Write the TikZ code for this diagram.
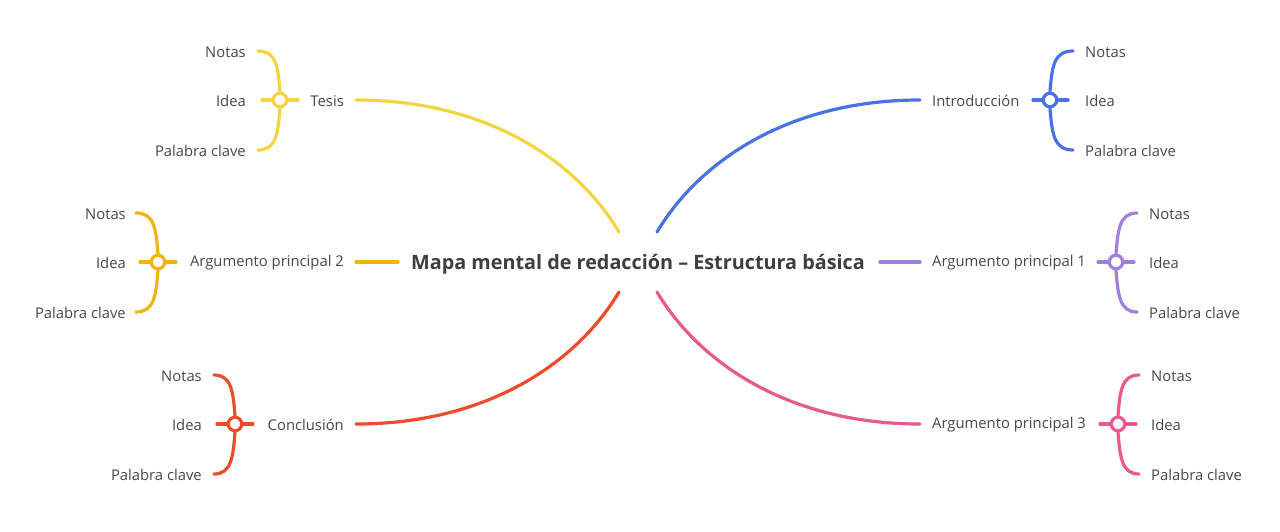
\documentclass[tikz,border=0pt]{standalone}
\usepackage{fontspec}
\setmainfont{Open Sans}
\definecolor{cblue}{HTML}{4A72E6}
\definecolor{cpurple}{HTML}{A17FE0}
\definecolor{cpink}{HTML}{E65A8C}
\definecolor{cyellow}{HTML}{F5D442}
\definecolor{corange}{HTML}{F1B314}
\definecolor{cred}{HTML}{EC4C2B}
\definecolor{ctext}{HTML}{484848}
\definecolor{ctitle}{HTML}{3C3E41}
\tikzset{
  lbl/.style={inner sep=0pt, text=ctext, font=\fontsize{14.8}{16}\selectfont, yshift=-0.8pt},
  lblR/.style={lbl, anchor=west},
  lblL/.style={lbl, anchor=east},
  hub/.style={circle, draw=#1, fill=white, line width=3.2pt, minimum size=13.5pt, inner sep=0pt},
  conn/.style={draw=#1, line width=3.2pt, line cap=round},
}
\begin{document}
\begin{tikzpicture}[x=1pt,y=-1pt]
\useasboundingbox (0,0) rectangle (1280,531);
\fill[white] (0,0) rectangle (1280,531);
% title
\node[inner sep=0pt, text=ctitle, font=\bfseries\fontsize{19.8}{22}\selectfont] (title) at (638,264) {Mapa mental de redacción – Estructura básica};
\coordinate (oNE) at (657,232);
\coordinate (oSE) at (657,292);
\coordinate (oNW) at (619,232);
\coordinate (oSW) at (619,292);
\coordinate (oE) at (880,262);
\coordinate (oW) at (398,262);

% ===== Introducción (blue)
\node[lblR] (intro) at (932,100) {Introducción};
\coordinate (introIn) at (920,100);
\node[hub=cblue] (hubI) at (1050,100) {};
\coordinate (hubIa) at (1033,100);
\coordinate (hubIb) at (1068,100);
\coordinate (bIt) at (1073,51);
\coordinate (bIb) at (1073,150);
\node[lblR] (introN) at (1085,51) {Notas};
\node[lblR] (introI) at (1085,100) {Idea};
\node[lblR] (introP) at (1085,150) {Palabra clave};
\draw[conn=cblue] (oNE) .. controls (700,160) and (790,100) .. (introIn);
\draw[conn=cblue] (hubIa) -- (hubI.west);
\draw[conn=cblue] (hubI.east) -- (hubIb);
\draw[conn=cblue] (hubI.north) .. controls (1052,66) and (1054,51) .. (bIt);
\draw[conn=cblue] (hubI.south) .. controls (1052,134) and (1054,150) .. (bIb);

% ===== Argumento principal 1 (purple)
\node[lblR] (arg1) at (932,262) {Argumento principal 1};
\coordinate (arg1In) at (920,262);
\node[hub=cpurple] (hubA) at (1116,262) {};
\coordinate (hubAa) at (1098,262);
\coordinate (hubAb) at (1134,262);
\coordinate (bAt) at (1137,213);
\coordinate (bAb) at (1137,312);
\node[lblR] (arg1N) at (1149,213) {Notas};
\node[lblR] (arg1I) at (1149,262) {Idea};
\node[lblR] (arg1P) at (1149,312) {Palabra clave};
\draw[conn=cpurple] (oE) -- (arg1In);
\draw[conn=cpurple] (hubAa) -- (hubA.west);
\draw[conn=cpurple] (hubA.east) -- (hubAb);
\draw[conn=cpurple] (hubA.north) .. controls (1118,228) and (1120,213) .. (bAt);
\draw[conn=cpurple] (hubA.south) .. controls (1118,296) and (1120,312) .. (bAb);

% ===== Argumento principal 3 (pink)
\node[lblR] (arg3) at (932,424) {Argumento principal 3};
\coordinate (arg3In) at (920,424);
\node[hub=cpink] (hubC) at (1118,424) {};
\coordinate (hubCa) at (1100,424);
\coordinate (hubCb) at (1136,424);
\coordinate (bCt) at (1139,375);
\coordinate (bCb) at (1139,474);
\node[lblR] (arg3N) at (1151,375) {Notas};
\node[lblR] (arg3I) at (1151,424) {Idea};
\node[lblR] (arg3P) at (1151,474) {Palabra clave};
\draw[conn=cpink] (oSE) .. controls (700,364) and (790,424) .. (arg3In);
\draw[conn=cpink] (hubCa) -- (hubC.west);
\draw[conn=cpink] (hubC.east) -- (hubCb);
\draw[conn=cpink] (hubC.north) .. controls (1120,390) and (1122,375) .. (bCt);
\draw[conn=cpink] (hubC.south) .. controls (1120,458) and (1122,474) .. (bCb);

% ===== Tesis (yellow)
\node[lblL] (tesis) at (344,100) {Tesis};
\coordinate (tesisIn) at (356,100);
\node[hub=cyellow] (hubT) at (280,100) {};
\coordinate (hubTa) at (298,100);
\coordinate (hubTb) at (262,100);
\coordinate (bTt) at (258,51);
\coordinate (bTb) at (258,150);
\node[lblL] (tesisN) at (246,51) {Notas};
\node[lblL] (tesisI) at (246,100) {Idea};
\node[lblL] (tesisP) at (246,150) {Palabra clave};
\draw[conn=cyellow] (oNW) .. controls (576,160) and (486,100) .. (tesisIn);
\draw[conn=cyellow] (hubTa) -- (hubT.east);
\draw[conn=cyellow] (hubT.west) -- (hubTb);
\draw[conn=cyellow] (hubT.north) .. controls (278,66) and (276,51) .. (bTt);
\draw[conn=cyellow] (hubT.south) .. controls (278,134) and (276,150) .. (bTb);

% ===== Argumento principal 2 (orange)
\node[lblL] (arg2) at (344,262) {Argumento principal 2};
\coordinate (arg2In) at (356,262);
\node[hub=corange] (hubB) at (158,262) {};
\coordinate (hubBa) at (176,262);
\coordinate (hubBb) at (140,262);
\coordinate (bBt) at (136,213);
\coordinate (bBb) at (136,312);
\node[lblL] (arg2N) at (126,213) {Notas};
\node[lblL] (arg2I) at (126,262) {Idea};
\node[lblL] (arg2P) at (126,312) {Palabra clave};
\draw[conn=corange] (oW) -- (arg2In);
\draw[conn=corange] (hubBa) -- (hubB.east);
\draw[conn=corange] (hubB.west) -- (hubBb);
\draw[conn=corange] (hubB.north) .. controls (156,228) and (154,213) .. (bBt);
\draw[conn=corange] (hubB.south) .. controls (156,296) and (154,312) .. (bBb);

% ===== Conclusión (red)
\node[lblL] (concl) at (344,424) {Conclusión};
\coordinate (conclIn) at (356,424);
\node[hub=cred] (hubD) at (235,424) {};
\coordinate (hubDa) at (253,424);
\coordinate (hubDb) at (217,424);
\coordinate (bDt) at (214,375);
\coordinate (bDb) at (214,474);
\node[lblL] (conclN) at (202,375) {Notas};
\node[lblL] (conclI) at (202,424) {Idea};
\node[lblL] (conclP) at (202,474) {Palabra clave};
\draw[conn=cred] (oSW) .. controls (576,364) and (486,424) .. (conclIn);
\draw[conn=cred] (hubDa) -- (hubD.east);
\draw[conn=cred] (hubD.west) -- (hubDb);
\draw[conn=cred] (hubD.north) .. controls (233,390) and (231,375) .. (bDt);
\draw[conn=cred] (hubD.south) .. controls (233,458) and (231,474) .. (bDb);
\end{tikzpicture}
\end{document}
